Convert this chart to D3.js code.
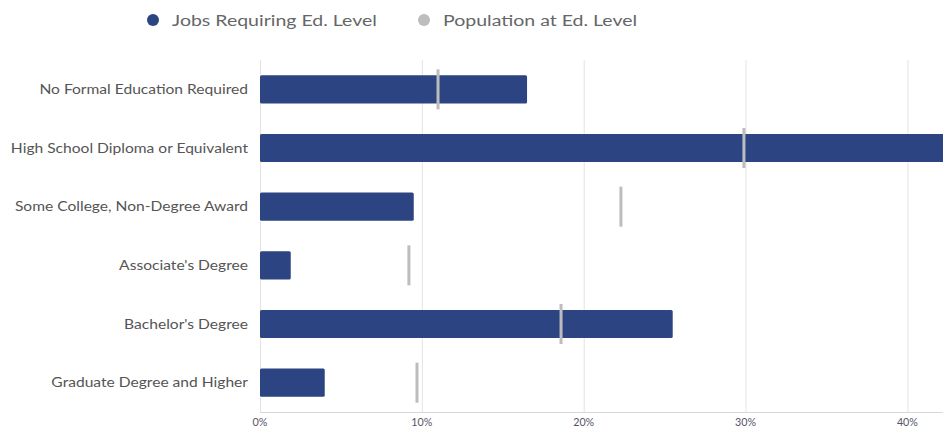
<!DOCTYPE html>
<html><head><meta charset="utf-8">
<script src="https://cdn.jsdelivr.net/npm/d3@7/dist/d3.min.js"></script>
<style>body{margin:0;background:#fff;font-family:Lato,"Open Sans",sans-serif;}</style>
</head><body><svg id="c" width="943" height="430"></svg>
<script>
const categories = ["No Formal Education Required","High School Diploma or Equivalent","Some College, Non-Degree Award","Associate's Degree","Bachelor's Degree","Graduate Degree and Higher"];
const jobsShare = [16.5, 44.0, 9.5, 1.9, 25.5, 4.0];
const popShare = [11.0, 29.9, 22.3, 9.2, 18.6, 9.7];
const tickValues = [0, 10, 20, 30, 40];
const seriesNames = ["Jobs Requiring Ed. Level","Population at Ed. Level"];
const seriesColors = ["#2d4482","#bdbdbd"];

(function(){
const svg = d3.select("#c");
const pL = 260, pR = 943, pT = 60, pB = 412;
const stretch = 1.2;
const x = d3.scaleLinear().domain([0, 42.2]).range([pL, pR]);
const y = d3.scaleBand().domain(categories).range([pT, pB]).paddingInner(0.52).paddingOuter(0.26);

svg.append("defs").append("clipPath").attr("id","clip").append("rect")
  .attr("x", pL).attr("y", 0).attr("width", pR-pL).attr("height", 430);

const g = svg.append("g");
g.selectAll("line.grid").data(tickValues).enter().append("line")
  .attr("x1", d=>x(d)+0.5).attr("x2", d=>x(d)+0.5).attr("y1", pT).attr("y2", pB)
  .attr("stroke", "#e3e3e3").attr("stroke-width", 1);
g.append("line").attr("x1", pL).attr("x2", pR).attr("y1", pB+0.5).attr("y2", pB+0.5)
  .attr("stroke","#d8d8d8");

const plot = svg.append("g").attr("clip-path","url(#clip)");
plot.selectAll("rect.bar").data(categories).enter().append("rect")
  .attr("x", x(0)).attr("y", d=>y(d))
  .attr("width", (d,i)=>x(jobsShare[i])-x(0)).attr("height", y.bandwidth())
  .attr("rx", 1.5).attr("fill", seriesColors[0]);

const mh = 40;
plot.selectAll("rect.mk").data(categories).enter().append("rect")
  .attr("x", (d,i)=>x(popShare[i])-1.5).attr("y", d=>y(d)+y.bandwidth()/2-mh/2)
  .attr("width", 3).attr("height", mh).attr("fill", seriesColors[1]);

svg.selectAll("text.cat").data(categories).enter().append("text")
  .attr("transform", d=>`translate(248,${y(d)+y.bandwidth()/2}) scale(${stretch},1)`)
  .attr("dy","0.35em")
  .attr("text-anchor","end").attr("font-size", 13).attr("fill","#555").text(d=>d);

svg.selectAll("text.tk").data(tickValues).enter().append("text")
  .attr("x", d=>x(d)).attr("y", 426).attr("text-anchor","middle")
  .attr("font-size", 11).attr("fill","#556").attr("textLength", d=>d===0?15:21).attr("lengthAdjust","spacingAndGlyphs")
  .text(d=>d+"%");

const legX = [153, 424];
const lg = svg.selectAll("g.leg").data(seriesNames).enter().append("g")
  .attr("transform", (d,i)=>`translate(${legX[i]},20)`);
lg.append("circle").attr("r", 6).attr("fill", (d,i)=>seriesColors[i]);
lg.append("text").attr("transform", `translate(19,0) scale(${stretch+0.02},1)`).attr("dy","0.35em")
  .attr("font-size", 16).attr("fill","#666").text(d=>d);
})();
</script></body></html>
